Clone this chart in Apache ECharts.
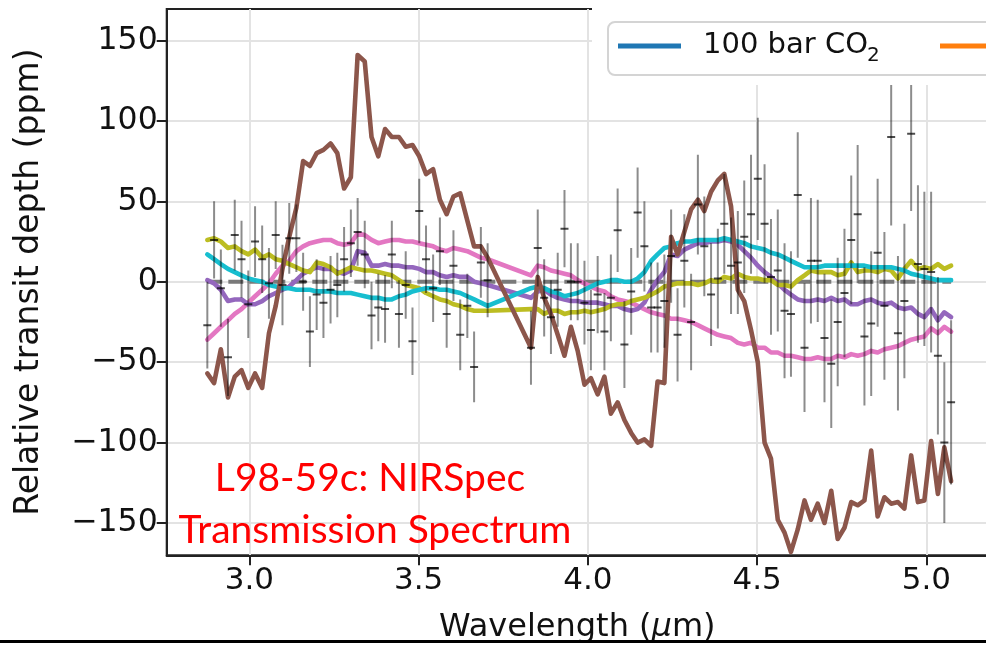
<!DOCTYPE html>
<html>
<head>
<meta charset="utf-8">
<script src="https://cdn.jsdelivr.net/npm/echarts@6/dist/echarts.min.js"></script>
<style>
  html, body { margin: 0; padding: 0; background: #ffffff; }
  #chart { width: 986px; height: 646px; }
</style>
</head>
<body>
<div id="chart"></div>
<script>
// Wavelength grid of the binned spectrum (µm); the jump after 3.704 is the NRS1/NRS2 detector gap.
const wavelength = [
  2.876, 2.896, 2.916, 2.937, 2.957, 2.977, 2.997, 3.017, 3.038, 3.058,
  3.078, 3.098, 3.118, 3.139, 3.159, 3.179, 3.199, 3.219, 3.240, 3.260,
  3.280, 3.300, 3.320, 3.341, 3.361, 3.381, 3.401, 3.421, 3.442, 3.462,
  3.482, 3.502, 3.522, 3.543, 3.563, 3.583, 3.603, 3.623, 3.644, 3.664,
  3.684, 3.704,
  3.832, 3.852, 3.871, 3.891, 3.911, 3.931, 3.950, 3.970, 3.990, 4.009,
  4.029, 4.049, 4.068, 4.088, 4.108, 4.128, 4.147, 4.167, 4.187, 4.206,
  4.226, 4.246, 4.265, 4.285, 4.305, 4.325, 4.344, 4.364, 4.384, 4.403,
  4.423, 4.443, 4.462, 4.482, 4.502, 4.522, 4.541, 4.561, 4.581, 4.600,
  4.620, 4.640, 4.659, 4.679, 4.699, 4.719, 4.738, 4.758, 4.778, 4.797,
  4.817, 4.837, 4.856, 4.876, 4.896, 4.916, 4.935, 4.955, 4.975, 4.994,
  5.014, 5.034, 5.053, 5.073
];

// Observed relative transit depth (ppm) and its 1-sigma uncertainty.
const depth = [
  -27, 26, -4, -47, 29, 14, -14, 25, 14, -1,
  29, -2, 27, 27, 0, -31, -8, -13, -5, -2,
  14, 24, 31, 17, -21, -16, -17, 17, -20, -2,
  -37, 44, 14, -4, 19, -20, 10, -33, -15, -53,
  12, 1,
  -41, 21, -10, -22, -5, 33, 0, 0, -13, -30,
  -8, -31, -10, 32, -39, -6, 43, 22, -16, -16,
  -12, 16, -33, 13, -25, 48, 22, -8, 2, 36,
  10, 12, 28, 42, 64, 36, 3, 7, -18, -20,
  54, -41, 13, 13, -35, -51, -25, -7, 26, 42,
  -34, -26, 18, -15, 90, -32, -12, 92, 11, 8,
  6, -46, -100, -75
];
const depthErr = [
  27, 24, 24, 24, 22, 24, 21, 22, 21, 22,
  21, 25, 22, 21, 18, 22, 22, 22, 21, 20,
  20, 21, 21, 21, 21, 21, 21, 21, 21, 21,
  21, 20, 21, 21, 21, 21, 22, 22, 20, 22,
  22, 23,
  23, 24, 24, 23, 23, 24, 24, 24, 26, 25,
  24, 24, 27, 26, 27, 27, 28, 28, 28, 28,
  29, 29, 29, 29, 30, 31, 31, 32, 31, 31,
  30, 32, 35, 37, 38, 37, 36, 38, 42, 39,
  39, 40, 39, 38, 40, 40, 40, 40, 40, 43,
  43, 45, 46, 46, 55, 48, 48, 48, 49, 48,
  50, 49, 50, 51
];

// Model spectra sampled on the same wavelength grid (ppm).
const modelBrown = [
  -57, -63, -42, -72, -59, -55, -66, -57, -66, -32,
  -15, 8, 28, 46, 75, 72, 80, 82, 86, 80,
  58, 65, 141, 137, 90, 78, 95, 90, 90, 84,
  85, 78, 67, 70, 51, 42, 53, 55, 38, 22,
  22, 15,
  -41, 3, -10, -20, -33, -46, -28, -43, -64, -60,
  -70, -59, -82, -75, -86, -94, -100, -98, -102, -62,
  -63, 28, 17, 31, 45, 51, 44, 56, 63, 67,
  47, -5, -12, -30, -50, -100, -110, -148, -156, -168,
  -154, -136, -148, -138, -150, -130, -160, -153, -137, -139,
  -136, -105, -146, -134, -138, -137, -141, -108, -137, -136,
  -99, -132, -103, -124
];
const modelPink = [
  -36, -32, -28, -24, -20, -17, -13, -9, -5, -1,
  5, 10, 13, 19, 22, 24, 25, 26, 26, 24,
  23, 24, 30, 29, 26, 24, 25, 26, 26, 25,
  25, 24, 23, 22, 20, 19, 21, 20, 19, 17,
  15, 14,
  4, 10, 9, 7, 6, 5, 4, 1, -1, -3,
  -5, -6, -9, -11, -12, -13, -15, -17, -19, -20,
  -21, -23, -23, -24, -25, -27, -29, -31, -33, -34,
  -35, -38, -39, -38, -41, -41, -44, -44, -46, -46,
  -47, -48, -48, -47, -48, -48, -46, -47, -45, -46,
  -45, -43, -44, -42, -41, -40, -38, -36, -35, -34,
  -29, -32, -28, -31
];
const modelPurple = [
  1, -1, -5, -12, -11, -11, -14, -14, -12, -9,
  -7, -5, -3, 1, 5, 7, 9, 8, 8, 6,
  5, 7, 19, 18, 10, 10, 11, 10, 10, 9,
  9, 8, 6, 6, 4, 3, 4, 3, 3, 0,
  -1, -2,
  -10, -6, -5, -8, -10, -11, -12, -12, -13, -13,
  -13, -14, -15, -15, -17, -18, -17, -13, -5, 1,
  6, 17, 16, 20, 22, 24, 24, 25, 25, 26,
  25, 23, 19, 15, 10, 6, 3, -1, -5, -8,
  -11, -12, -12, -11, -12, -10, -12, -11, -14, -14,
  -12, -11, -13, -14, -13, -16, -17, -16, -20, -22,
  -17, -24, -19, -22
];
const modelOlive = [
  26, 27, 25, 21, 22, 19, 17, 20, 15, 17,
  14, 13, 11, 9, 7, 6, 12, 11, 9, 5,
  7, 9, 8, 7, 7, 6, 5, 4, 1, -2,
  -3, -4, -7, -9, -11, -12, -14, -15, -17, -18,
  -18, -18,
  -17, -17, -20, -18, -18, -20, -19, -19, -18, -19,
  -18, -17, -15, -14, -14, -12, -11, -10, -8, -6,
  -3, -2, -1, -1, -1, -2, -1, 1, 0, 3,
  2, 5, 3, 2, 2, 1, 1, -2, -2, -3,
  1, 4, 7, 6, 6, 6, 4, 5, 12, 6,
  7, 7, 6, 8, 7, 2, 8, 13, 8, 9,
  8, 11, 8, 10
];
const modelCyan = [
  17, 14, 11, 8, 6, 4, 2, 1, 0, -2,
  -3, -4, -4, -5, -5, -5, -6, -6, -6, -7,
  -7, -7, -8, -9, -10, -10, -11, -11, -9, -8,
  -6, -5, -4, -4, -5, -5, -6, -7, -9, -11,
  -13, -15,
  -4, -3, -4, -6, -7, -9, -8, -7, -5, -3,
  -1, 0, 1, 1, 0, 0, 2, 6, 13, 17,
  21, 22, 24, 25, 25, 26, 26, 26, 26, 27,
  26, 25, 24, 22, 21, 20, 18, 17, 15, 13,
  11, 9, 9, 9, 10, 10, 10, 10, 10, 10,
  10, 9, 9, 9, 9, 8, 7, 5, 4, 3,
  2, 1, 1, 1
];

// Flat (zero) reference line across the observed range.
const zeroLine = [[2.876, 0], [5.073, 0]];

const xTicks = [3.0, 3.5, 4.0, 4.5, 5.0];
const yTicks = [-150, -100, -50, 0, 50, 100, 150];

const FONT = 'DejaVu Sans';
const INK = '#111111';

function pairs(values) {
  return wavelength.map((w, i) => [w, values[i]]);
}

function modelSeries(values, color) {
  return {
    type: 'line',
    data: pairs(values),
    showSymbol: false,
    silent: true,
    z: 3,
    lineStyle: { color: color, width: 4.6, join: 'round', cap: 'round' },
    emphasis: { disabled: true }
  };
}

const chart = echarts.init(document.getElementById('chart'), null, { renderer: 'canvas' });

chart.setOption({
  animation: false,
  backgroundColor: '#ffffff',
  grid: {
    left: 166.7, top: 9, right: -2, bottom: 90.7,
    containLabel: false, outerBoundsMode: 'none',
    show: true, borderColor: '#222222', borderWidth: 2, backgroundColor: 'transparent'
  },
  xAxis: {
    type: 'value', min: 2.756, max: 5.182,
    name: '{t|Wavelength (}{m|\u03bc}{t|m)}',
    nameLocation: 'middle', nameGap: 56,
    nameTextStyle: {
      rich: {
        t: { fontFamily: FONT, fontSize: 32, color: INK },
        m: { fontFamily: FONT, fontSize: 32, color: INK, fontStyle: 'italic' }
      }
    },
    axisLine: { show: true, onZero: false, lineStyle: { color: '#222222', width: 2 } },
    axisTick: { show: true, customValues: xTicks, length: 10, lineStyle: { color: '#222222', width: 2 } },
    axisLabel: {
      show: true, customValues: xTicks, margin: 10,
      fontFamily: FONT, fontSize: 31, color: INK,
      formatter: v => Number(v).toFixed(1)
    },
    splitLine: { show: true, lineStyle: { color: '#e3e3e3', width: 2 } }
  },
  yAxis: {
    type: 'value', min: -170.1, max: 169.6,
    name: 'Relative transit depth (ppm)',
    nameLocation: 'middle', nameGap: 121,
    nameTextStyle: { fontFamily: FONT, fontSize: 33, color: INK },
    axisLine: { show: true, onZero: false, lineStyle: { color: '#222222', width: 2 } },
    axisTick: { show: true, customValues: yTicks, length: 10, lineStyle: { color: '#222222', width: 2 } },
    axisLabel: {
      show: true, customValues: yTicks, margin: 9,
      fontFamily: FONT, fontSize: 31.5, color: INK,
      formatter: v => (v < 0 ? '\u2212' + Math.abs(v) : String(v))
    },
    splitLine: { show: true, lineStyle: { color: '#e3e3e3', width: 2 } }
  },
  series: [
    {
      type: 'line',
      data: zeroLine,
      showSymbol: false,
      silent: true,
      z: 2,
      lineStyle: { color: '#7a7a7a', width: 4, type: [15, 6] }
    },
    modelSeries(modelPink, '#e377c2'),
    modelSeries(modelPurple, '#9467bd'),
    modelSeries(modelOlive, '#bcbd22'),
    modelSeries(modelCyan, '#17becf'),
    modelSeries(modelBrown, '#8c564b'),
    {
      // Observed points: vertical error bars with a short tick at the measured value.
      type: 'custom',
      silent: true,
      z: 6,
      clip: true,
      encode: { x: 0, y: 1 },
      data: wavelength.map((w, i) => [w, depth[i], depthErr[i]]),
      renderItem: function (params, api) {
        const x = api.value(0), y = api.value(1), e = api.value(2);
        const top = api.coord([x, y + e]);
        const bot = api.coord([x, y - e]);
        const mid = api.coord([x, y]);
        return {
          type: 'group',
          children: [
            { type: 'line', shape: { x1: top[0], y1: top[1], x2: bot[0], y2: bot[1] },
              style: { stroke: 'rgba(0,0,0,0.45)', lineWidth: 2 } },
            { type: 'line', shape: { x1: mid[0] - 4, y1: mid[1], x2: mid[0] + 4, y2: mid[1] },
              style: { stroke: 'rgba(0,0,0,0.7)', lineWidth: 2 } }
          ]
        };
      }
    }
  ],
  graphic: [
    // Blank band behind the legend box
    { type: 'rect', z: 100, shape: { x: 592, y: 0, width: 400, height: 85 },
      style: { fill: '#ffffff' }, silent: true },
    // Legend frame
    { type: 'rect', z: 101, shape: { x: 608, y: 22, width: 420, height: 53, r: 7 },
      style: { fill: '#ffffff', stroke: '#d4d4d4', lineWidth: 2 }, silent: true },
    { type: 'line', z: 102, shape: { x1: 618, y1: 46, x2: 681, y2: 46 },
      style: { stroke: '#1f77b4', lineWidth: 5 }, silent: true },
    { type: 'text', z: 102, silent: true,
      style: { x: 703, y: 45, text: '100 bar CO', fontFamily: FONT, fontSize: 29, fill: INK,
               textAlign: 'left', textVerticalAlign: 'middle' } },
    { type: 'text', z: 102, silent: true,
      style: { x: 867, y: 56, text: '2', fontFamily: FONT, fontSize: 20, fill: INK,
               textAlign: 'left', textVerticalAlign: 'middle' } },
    { type: 'line', z: 102, shape: { x1: 940, y1: 46, x2: 995, y2: 46 },
      style: { stroke: '#ff7f0e', lineWidth: 5 }, silent: true },
    // Annotation
    { type: 'text', z: 50, silent: true,
      style: { x: 370, y: 478, text: 'L98-59c: NIRSpec', fontFamily: 'Lato', fontSize: 39, fill: '#ff0000',
               textAlign: 'center', textVerticalAlign: 'middle' } },
    { type: 'text', z: 50, silent: true,
      style: { x: 375, y: 530, text: 'Transmission Spectrum', fontFamily: 'Lato', fontSize: 39, fill: '#ff0000',
               textAlign: 'center', textVerticalAlign: 'middle' } },
    // Bottom rule
    { type: 'rect', z: 100, shape: { x: 0, y: 640, width: 986, height: 3 },
      style: { fill: '#000000' }, silent: true }
  ]
});
</script>
</body>
</html>
